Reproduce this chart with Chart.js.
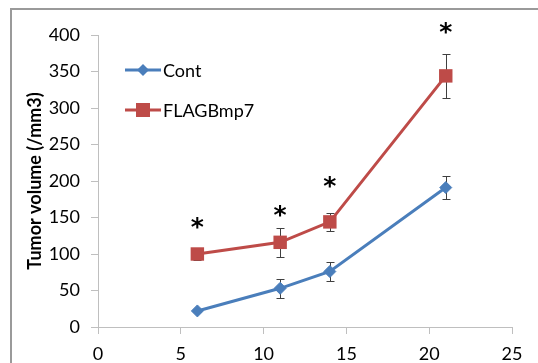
<!DOCTYPE html>
<html>
<head>
<meta charset="utf-8">
<script src="https://cdn.jsdelivr.net/npm/chart.js@4/dist/chart.umd.min.js"></script>
<style>
  body { margin: 0; background: #fff; overflow: hidden; }
  #frame { position: absolute; left: 10px; top: 8px; width: 600px; height: 400px;
           border-left: 2px solid #9a9a9a; border-top: 2px solid #9a9a9a; }
  #wrap { position: absolute; left: 0; top: 0; width: 538px; height: 363px; }
</style>
</head>
<body>
<div id="frame"></div>
<div id="wrap"><canvas id="chart" width="538" height="363"></canvas></div>
<script>
// data
var days = [6, 11, 14, 21];
var contValues = [22, 53, 76, 191];
var contErrors = [2, 13, 13, 16];
var flagValues = [100, 116, 144, 344];
var flagErrors = [8, 20, 12, 30];
var starValues = [140, 157, 197, 408];
var seriesNames = ["Cont", "FLAGBmp7"];
var xTicks = [0, 5, 10, 15, 20, 25];
var yTicks = [0, 50, 100, 150, 200, 250, 300, 350, 400];

var blue = "#4a7ebb";
var red = "#be4b48";
var axisCol = "#bfbfbf";
var fontFam = "Lato, 'Open Sans', sans-serif";

function toPoints(xs, ys)
{
  return xs.map(function(x, i) { return { x: x, y: ys[i] }; });
}

// error bars go behind the markers
var errorBars = {
  id: "errorBars",
  beforeDatasetsDraw: function(chart)
  {
    var ctx = chart.ctx;
    var xs = chart.scales.x, ys = chart.scales.y;
    var errs = [contErrors, flagErrors];
    var vals = [contValues, flagValues];
    ctx.save();
    ctx.strokeStyle = "#404040";
    ctx.lineWidth = 1;
    for (var s = 0; s < 2; s++)
    {
      for (var i = 0; i < days.length; i++)
      {
        var px = Math.round(xs.getPixelForValue(days[i])) + 0.5;
        var top = Math.round(ys.getPixelForValue(vals[s][i] + errs[s][i])) + 0.5;
        var bot = Math.round(ys.getPixelForValue(vals[s][i] - errs[s][i])) + 0.5;
        ctx.beginPath();
        ctx.moveTo(px, top); ctx.lineTo(px, bot);
        ctx.moveTo(px - 4, top); ctx.lineTo(px + 4, top);
        ctx.moveTo(px - 4, bot); ctx.lineTo(px + 4, bot);
        ctx.stroke();
      }
    }
    ctx.restore();
  }
};

// asterisks and the inset legend
var extras = {
  id: "extras",
  afterDatasetsDraw: function(chart)
  {
    var ctx = chart.ctx;
    var xs = chart.scales.x, ys = chart.scales.y;
    ctx.save();
    ctx.fillStyle = "#000";
    ctx.font = "bold 25px 'DejaVu Sans'";
    ctx.textAlign = "center";
    ctx.textBaseline = "middle";
    for (var j = 0; j < days.length; j++)
    {
      ctx.fillText("*", xs.getPixelForValue(days[j]), ys.getPixelForValue(starValues[j]) + 4);
    }

    var rows = [{ y: 70, ds: chart.data.datasets[0] }, { y: 110, ds: chart.data.datasets[1] }];
    ctx.font = "18px " + fontFam;
    ctx.textAlign = "left";
    rows.forEach(function(r)
    {
      ctx.strokeStyle = r.ds.borderColor;
      ctx.lineWidth = 3;
      ctx.beginPath();
      ctx.moveTo(125, r.y); ctx.lineTo(161, r.y);
      ctx.stroke();
      ctx.fillStyle = r.ds.borderColor;
      if (r.ds.pointStyle === "rectRot")
      {
        ctx.beginPath();
        ctx.moveTo(143, r.y - 6); ctx.lineTo(149, r.y); ctx.lineTo(143, r.y + 6); ctx.lineTo(137, r.y);
        ctx.closePath(); ctx.fill();
      }
      else
      {
        ctx.fillRect(136, r.y - 7, 14, 14);
      }
      ctx.fillStyle = "#000";
      ctx.fillText(r.ds.label, 163, r.y + 1);
    });
    ctx.restore();
  }
};

new Chart(document.getElementById("chart"), {
  type: "line",
  data: {
    datasets: [
      {
        label: seriesNames[0],
        data: toPoints(days, contValues),
        borderColor: blue, backgroundColor: blue,
        borderWidth: 3, pointStyle: "rectRot", pointRadius: 6, pointBorderWidth: 1,
        pointHoverRadius: 6
      },
      {
        label: seriesNames[1],
        data: toPoints(days, flagValues),
        borderColor: red, backgroundColor: red,
        borderWidth: 3, pointStyle: "rect", pointRadius: 9.5, pointBorderWidth: 0,
        pointHoverRadius: 9.5
      }
    ]
  },
  options: {
    responsive: false,
    animation: false,
    events: [],
    clip: false,
    layout: { padding: { left: 24, top: 35, right: 26, bottom: 0 } },
    plugins: { legend: { display: false }, tooltip: { enabled: false } },
    scales: {
      x: {
        type: "linear", min: 0, max: 25,
        afterBuildTicks: function(s) { s.ticks = xTicks.map(function(v) { return { value: v }; }); },
        afterFit: function(s) { s.height = 36; },
        grid: { drawOnChartArea: false, drawTicks: true, tickLength: 7, color: axisCol },
        border: { color: axisCol, width: 1 },
        ticks: { font: { family: fontFam, size: 18 }, color: "#000", padding: 9, maxRotation: 0 }
      },
      y: {
        min: 0, max: 400,
        afterBuildTicks: function(s) { s.ticks = yTicks.map(function(v) { return { value: v }; }); },
        afterFit: function(s) { s.width = 74; },
        grid: { drawOnChartArea: false, drawTicks: true, tickLength: 7, color: axisCol },
        border: { color: axisCol, width: 1 },
        ticks: { font: { family: fontFam, size: 18 }, color: "#000", padding: 11 },
        title: { display: true, text: "Tumor volume (/mm3)", color: "#000",
                 font: { family: fontFam, size: 18, weight: "bold" }, padding: { top: 0, bottom: 0 } }
      }
    }
  },
  plugins: [errorBars, extras]
});
</script>
</body>
</html>
